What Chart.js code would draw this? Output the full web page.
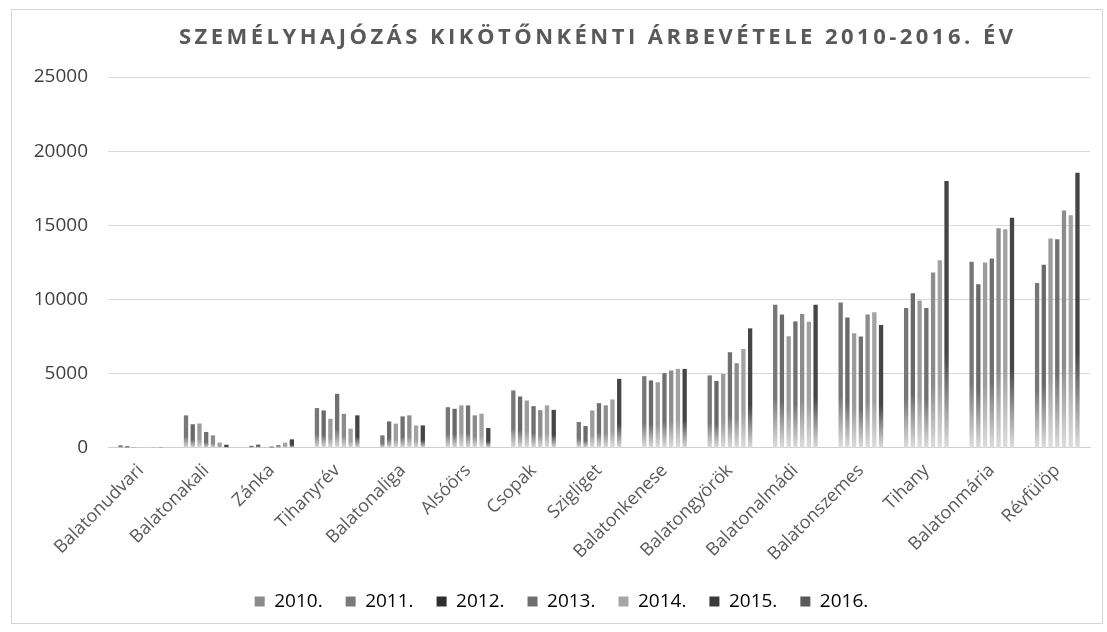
<!DOCTYPE html>
<html>
<head>
<meta charset="utf-8">
<script src="https://cdn.jsdelivr.net/npm/chart.js@4/dist/chart.umd.min.js"></script>
<style>
  html, body { margin: 0; padding: 0; background: #ffffff; }
  #wrap { position: relative; width: 1107px; height: 632px; }
</style>
</head>
<body>
<div id="wrap"><canvas id="c" width="1107" height="632"></canvas></div>
<script>
const titleText = 'SZEMÉLYHAJÓZÁS KIKÖTŐNKÉNTI ÁRBEVÉTELE 2010-2016. ÉV';
const ports = ['Balatonudvari','Balatonakali','Zánka','Tihanyrév','Balatonaliga','Alsóörs','Csopak','Szigliget','Balatonkenese','Balatongyörök','Balatonalmádi','Balatonszemes','Tihany','Balatonmária','Révfülöp'];
const years = ['2010.','2011.','2012.','2013.','2014.','2015.','2016.'];
const y2010 = [180, 2200, 150, 2690, 850, 2750, 3880, 1750, 4840, 4890, 9660, 9810, 9430, 12550, 11110];
const y2011 = [120, 1600, 230, 2530, 1790, 2640, 3470, 1480, 4550, 4520, 8990, 8800, 10420, 11040, 12350];
const y2012 = [60, 1650, 50, 1970, 1640, 2870, 3200, 2530, 4430, 4990, 7530, 7730, 9930, 12500, 14110];
const y2013 = [40, 1080, 100, 3650, 2130, 2870, 2820, 3020, 5040, 6450, 8530, 7510, 9430, 12770, 14070];
const y2014 = [30, 850, 200, 2300, 2200, 2200, 2550, 2870, 5220, 5710, 9030, 8990, 11830, 14800, 16010];
const y2015 = [20, 360, 360, 1300, 1520, 2310, 2870, 3270, 5330, 6670, 8510, 9140, 12650, 14740, 15680];
const y2016 = [20, 220, 580, 2200, 1520, 1340, 2570, 4660, 5330, 8060, 9660, 8290, 17990, 15520, 18550];
const yTicks = [0, 5000, 10000, 15000, 20000, 25000];

const series = [y2010, y2011, y2012, y2013, y2014, y2015, y2016];
const barColors = ['#777777', '#6a6a6a', '#9c9c9c', '#707070', '#8c8c8c', '#a2a2a2', '#454545'];
const legendColors = ['#8a8a8a', '#7a7a7a', '#2e2e2e', '#6e6e6e', '#a5a5a5', '#3a3a3a', '#5a5a5a'];

function fade(color) {
  return function (ctx) {
    const chart = ctx.chart;
    const ys = chart.scales && chart.scales.y;
    if (!ys || ctx.raw == null || !isFinite(ys.top)) return color;
    const top = ys.getPixelForValue(ctx.raw);
    const base = ys.getPixelForValue(0);
    if (!(base - top > 2)) return color;
    const g = chart.ctx.createLinearGradient(0, top, 0, base);
    g.addColorStop(0, color);
    g.addColorStop(0.65, color);
    g.addColorStop(1, '#dedede');
    return g;
  };
}

const framePlugin = {
  id: 'frame',
  beforeDraw(chart) {
    const c = chart.ctx;
    c.save();
    c.fillStyle = '#ffffff';
    c.fillRect(0, 0, chart.width, chart.height);
    c.strokeStyle = '#d4d4d4';
    c.lineWidth = 1;
    c.strokeRect(11.5, 9.5, 1091, 614);
    c.restore();
  },
  afterDraw(chart) {
    const c = chart.ctx;
    c.save();
    c.font = 'bold 22px "Open Sans"';
    c.fillStyle = '#595959';
    c.textBaseline = 'middle';
    const w0 = c.measureText(titleText).width;
    const spacing = Math.max(0, (834 - w0) / (titleText.length - 1));
    c.letterSpacing = spacing + 'px';
    c.textAlign = 'left';
    c.fillText(titleText, 179, 38);
    c.restore();
  }
};

new Chart(document.getElementById('c'), {
  type: 'bar',
  data: {
    labels: ports,
    datasets: years.map((y, i) => ({
      label: y,
      data: series[i],
      backgroundColor: fade(barColors[i]),
      borderWidth: 0,
      categoryPercentage: 0.72,
      barPercentage: 0.64
    }))
  },
  options: {
    responsive: false,
    animation: false,
    layout: { padding: { left: 33, right: 17, top: 77, bottom: 11 } },
    plugins: {
      title: { display: false },
      tooltip: { enabled: false },
      legend: {
        position: 'bottom',
        labels: {
          font: { family: '"Open Sans"', size: 19 },
          color: '#262626',
          boxWidth: 10,
          boxHeight: 10,
          padding: 23,
          generateLabels(chart) {
            return chart.data.datasets.map((ds, i) => ({
              text: ds.label,
              fillStyle: legendColors[i],
              strokeStyle: legendColors[i],
              lineWidth: 0,
              hidden: false,
              datasetIndex: i
            }));
          }
        }
      }
    },
    scales: {
      x: {
        grid: { display: false },
        border: { display: true, color: '#d0d0d0' },
        afterFit(a) { a.paddingLeft = 0; a.paddingRight = 0; },
        ticks: {
          font: { family: '"Open Sans"', size: 18 },
          color: '#5a5a5a',
          minRotation: 45,
          maxRotation: 45,
          padding: 4
        }
      },
      y: {
        min: 0,
        max: 25000,
        afterBuildTicks(axis) { axis.ticks = yTicks.map(v => ({ value: v })); },
        afterFit(a) { a.width = 75; },
        grid: { color: '#d9d9d9', drawTicks: false },
        border: { display: false },
        ticks: {
          font: { family: '"Open Sans"', size: 19 },
          color: '#404040',
          padding: 20,
          callback: v => String(v)
        }
      }
    }
  },
  plugins: [framePlugin]
});
</script>
</body>
</html>
